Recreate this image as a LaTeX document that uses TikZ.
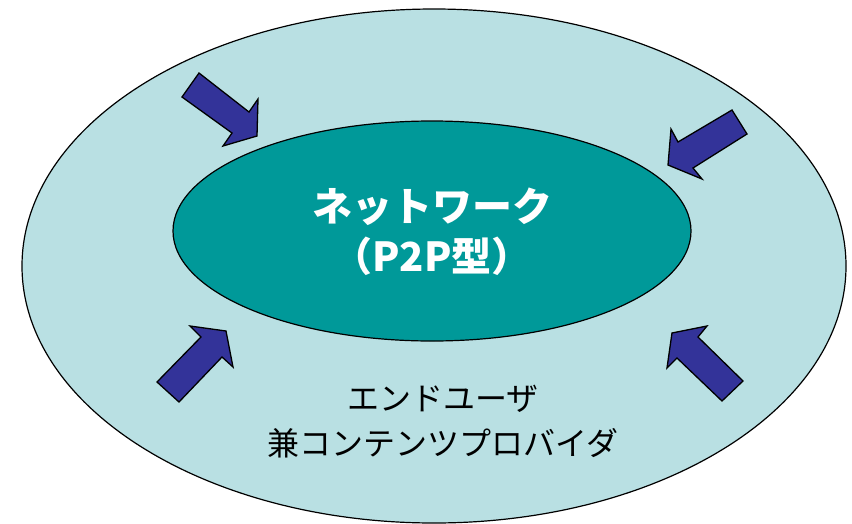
\documentclass[tikz,border=0pt]{standalone}
\usepackage{fontspec}
\newfontfamily\cjk{Noto Sans CJK JP}
\usetikzlibrary{shapes.geometric}
\definecolor{outerfill}{HTML}{B9E0E3}
\definecolor{innerfill}{HTML}{009999}
\definecolor{arrowfill}{HTML}{333399}
\tikzset{
  ring/.style={draw=black, line width=1.2pt},
  blockarrow/.style={draw=black, fill=arrowfill, line width=1.3pt, line join=miter},
  title/.style={text=white, font=\cjk\bfseries\fontsize{40}{50}\selectfont, align=center, inner sep=0pt},
  caption/.style={text=black, font=\cjk\fontsize{32}{45}\selectfont, align=center, inner sep=0pt}
}
\begin{document}
\begin{tikzpicture}[x=1pt,y=-1pt]
\useasboundingbox (0,0) rectangle (852,523);
\draw[ring, fill=outerfill] (434,266) ellipse [x radius=412, y radius=257];
\draw[ring, fill=innerfill] (432,231) ellipse [x radius=259, y radius=110];
% arrows
\draw[blockarrow] (199,73) -- (182,97) -- (232,133) -- (223,146) -- (257,136) -- (258,99) -- (249,112) -- cycle;
\draw[blockarrow] (732,110) -- (747,134) -- (693,168) -- (702,179) -- (668,165) -- (671,129) -- (678,142) -- cycle;
\draw[blockarrow] (157,382) -- (179,402) -- (222,357) -- (233,367) -- (226,331) -- (190,326) -- (201,337) -- cycle;
\draw[blockarrow] (743,381) -- (722,401) -- (677,358) -- (667,368) -- (672,333) -- (707,326) -- (698,337) -- cycle;
\node[title] (net) at (432,232) {ネットワーク\\（P2P型）};
\node[caption] (user) at (443,422) {エンドユーザ\\兼コンテンツプロバイダ};
\end{tikzpicture}
\end{document}
